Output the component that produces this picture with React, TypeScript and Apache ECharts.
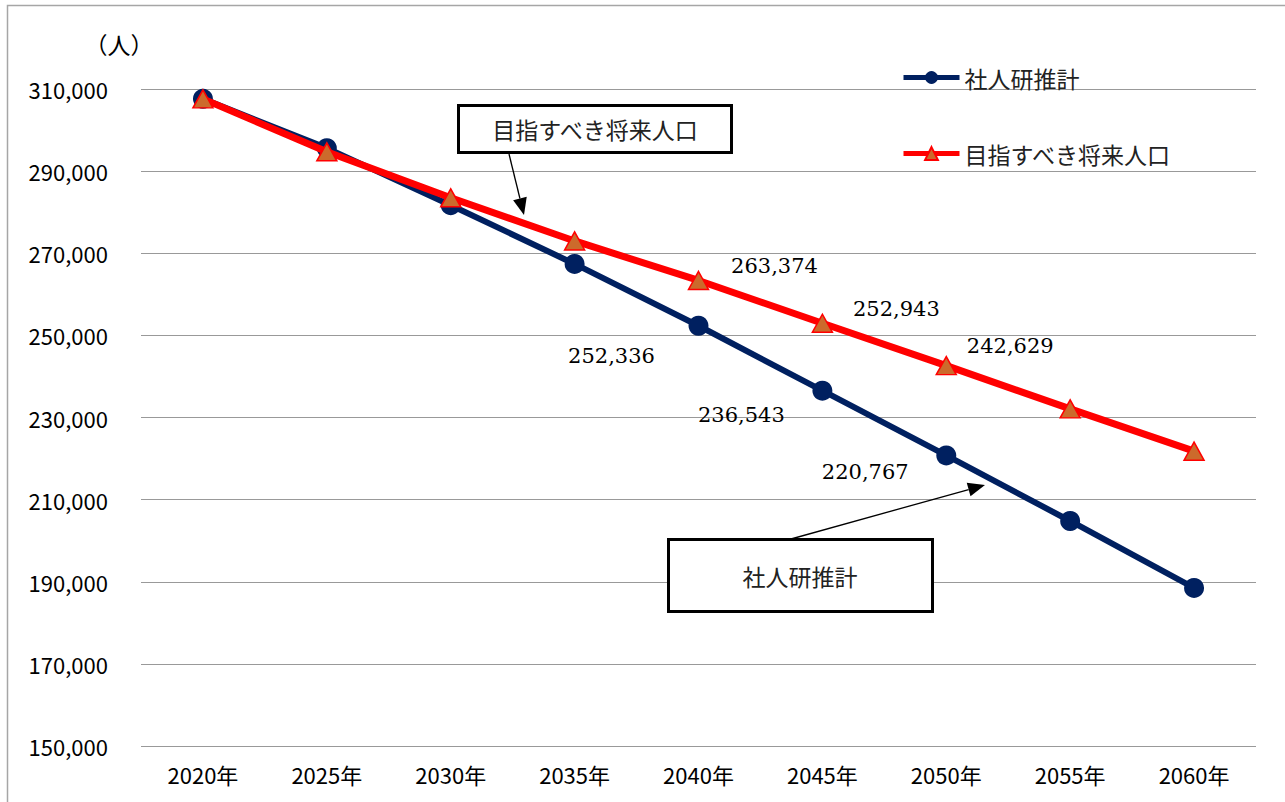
import React, { useEffect, useRef } from "react";
import * as echarts from "echarts";

const years = ["2020年", "2025年", "2030年", "2035年", "2040年", "2045年", "2050年", "2055年", "2060年"];
const ipssValues = [307600, 295600, 281700, 267400, 252336, 236543, 220767, 204800, 188500];
const targetValues = [307600, 294700, 283500, 273000, 263374, 252943, 242629, 232100, 221800];
const seriesNames = ["社人研推計", "目指すべき将来人口"];
const yMin = 150000;
const yMax = 310000;
const yStep = 20000;
const unitLabel = "（人）";

const labeledIdx = [4, 5, 6];
const ipssLabelOffsets = [[-87, 30], [-81, 24], [-81, 17]];
const targetLabelOffsets = [[76, -14], [74, -14], [64, -20]];

const GOTHIC = '"Noto Sans CJK JP", "Noto Sans", sans-serif';
const SERIF = '"DejaVu Serif", "Liberation Serif", serif';

function buildData(values: number[], offsets: number[][]) {
  return values.map((v, i) => {
    const k = labeledIdx.indexOf(i);
    if (k < 0) return v;
    return { value: v, label: { show: true, position: "inside", offset: offsets[k] } };
  });
}

function arrow(x1: number, y1: number, x2: number, y2: number, len: number, half: number) {
  const dx = x2 - x1, dy = y2 - y1;
  const d = Math.sqrt(dx * dx + dy * dy);
  const ux = dx / d, uy = dy / d;
  const bx = x2 - ux * len, by = y2 - uy * len;
  return [
    { type: "line", z: 100, shape: { x1, y1, x2: bx, y2: by }, style: { stroke: "#000", lineWidth: 1.3 } },
    {
      type: "polygon",
      z: 100,
      shape: { points: [[x2, y2], [bx - uy * half, by + ux * half], [bx + uy * half, by - ux * half]] },
      style: { fill: "#000" },
    },
  ];
}

export default function App() {
  const ref = useRef<HTMLDivElement>(null);
  useEffect(() => {
    document.body.style.margin = "0";
    const chart = echarts.init(ref.current!, undefined, { renderer: "svg" });
    const labelFmt = (p: any) => Number(p.value).toLocaleString("en-US");
    chart.setOption({
      animation: false,
      backgroundColor: "#fff",
      grid: { left: 141, right: 29, top: 89, bottom: 56 },
      legend: {
        orient: "vertical",
        left: 896,
        top: 61,
        itemWidth: 56,
        itemHeight: 16,
        itemGap: 53,
        data: seriesNames,
        lineStyle: { width: 5 },
        textStyle: { fontSize: 23, fontFamily: GOTHIC, color: "#222" },
      },
      xAxis: {
        type: "category",
        data: years,
        boundaryGap: true,
        axisLine: { show: false },
        axisTick: { show: false },
        axisLabel: { fontSize: 22, fontFamily: GOTHIC, color: "#000", margin: 17 },
      },
      yAxis: {
        type: "value",
        min: yMin,
        max: yMax,
        interval: yStep,
        axisLine: { show: false },
        axisTick: { show: false },
        splitLine: { show: true, lineStyle: { color: "#999", width: 1.2 } },
        axisLabel: {
          fontSize: 22,
          fontFamily: GOTHIC,
          color: "#000",
          margin: 33,
          formatter: (v: number) => v.toLocaleString("en-US"),
        },
      },
      series: [
        {
          name: seriesNames[0],
          type: "line",
          data: buildData(ipssValues, ipssLabelOffsets),
          symbol: "circle",
          symbolSize: 20,
          lineStyle: { color: "#002060", width: 6 },
          itemStyle: { color: "#002060" },
          label: { show: false, formatter: labelFmt, fontFamily: SERIF, fontSize: 21, color: "#000" },
          z: 2,
        },
        {
          name: seriesNames[1],
          type: "line",
          data: buildData(targetValues, targetLabelOffsets),
          symbol: "triangle",
          symbolSize: [20, 18],
          lineStyle: { color: "#FF0000", width: 7 },
          itemStyle: { color: "#CC6A2C", borderColor: "#FF0000", borderWidth: 1.5 },
          label: { show: false, formatter: labelFmt, fontFamily: SERIF, fontSize: 21, color: "#000" },
          z: 3,
        },
      ],
      graphic: [
        {
          type: "rect",
          z: 0,
          silent: true,
          shape: { x: 7.5, y: 5.5, width: 1400, height: 1000 },
          style: { fill: "none", stroke: "#a6a6a6", lineWidth: 1.5 },
        },
        {
          type: "text",
          z: 100,
          x: 119,
          y: 44,
          style: { text: unitLabel, fontSize: 23, fontFamily: GOTHIC, fill: "#000", align: "center", verticalAlign: "middle" },
        },
        {
          type: "rect",
          z: 100,
          shape: { x: 458.5, y: 105.5, width: 273, height: 47 },
          style: { fill: "#fff", stroke: "#000", lineWidth: 3 },
        },
        {
          type: "text",
          z: 101,
          x: 595,
          y: 129,
          style: { text: seriesNames[1], fontSize: 23, fontFamily: GOTHIC, fill: "#222", align: "center", verticalAlign: "middle" },
        },
        ...arrow(509, 154, 524, 215, 17, 7),
        {
          type: "rect",
          z: 100,
          shape: { x: 668.5, y: 539.5, width: 264, height: 72 },
          style: { fill: "#fff", stroke: "#000", lineWidth: 3 },
        },
        {
          type: "text",
          z: 101,
          x: 800,
          y: 576,
          style: { text: seriesNames[0], fontSize: 23, fontFamily: GOTHIC, fill: "#222", align: "center", verticalAlign: "middle" },
        },
        ...arrow(791, 539, 985, 485, 17, 7),
      ],
    });
    return () => chart.dispose();
  }, []);
  return <div ref={ref} style={{ width: 1285, height: 802 }} />;
}
